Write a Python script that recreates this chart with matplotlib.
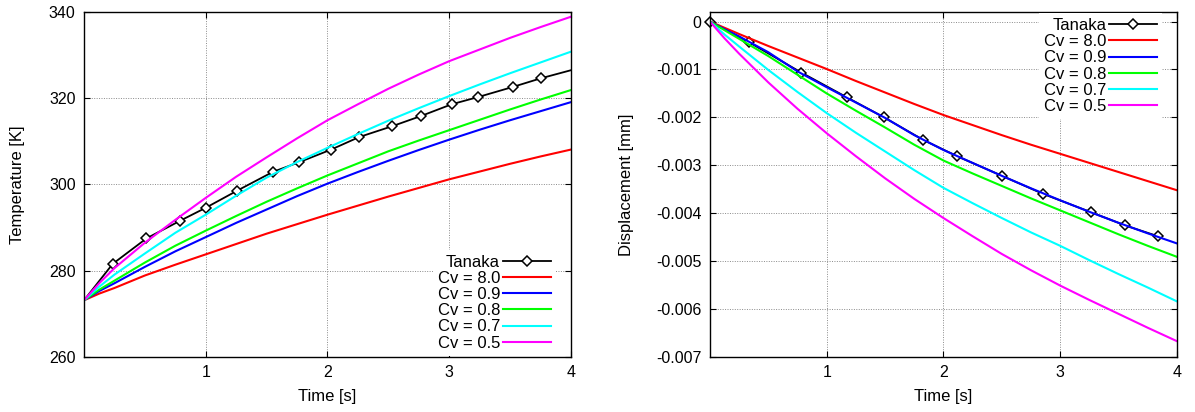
import numpy as np
import matplotlib
matplotlib.use('Agg')
import matplotlib.pyplot as plt

plt.rcParams['font.family'] = ['Liberation Sans', 'DejaVu Sans']
plt.rcParams['font.size'] = 11.5

# time grid of the model curves
t = [0, 0.125, 0.25, 0.5, 0.75, 1, 1.25, 1.5, 1.75, 2, 2.25, 2.5, 2.75, 3, 3.25, 3.5, 3.75, 4]

# ---- temperature panel ----
tanaka_t = [0, 0.236, 0.513, 0.79, 1.0, 1.26, 1.55, 1.77, 2.03, 2.26, 2.53, 2.77, 3.02, 3.24, 3.52, 3.75, 4.0]
tanaka_T = [273.15, 281.6, 287.5, 291.6, 294.6, 298.6, 302.9, 305.2, 308.1, 311.0, 313.5, 315.9, 318.6,
            320.3, 322.6, 324.6, 326.5]

T_cv80 = [273.15, 274.7, 276.0, 278.9, 281.4, 283.8, 286.2, 288.6, 290.8, 293.0, 295.1, 297.2, 299.2, 301.2,
          303.0, 304.8, 306.5, 308.1]
T_cv09 = [273.15, 275.3, 277.1, 280.9, 284.5, 287.8, 291.1, 294.2, 297.3, 300.2, 302.9, 305.5, 308.0, 310.4,
          312.7, 314.9, 317.0, 319.1]
T_cv08 = [273.15, 275.6, 277.7, 281.9, 285.8, 289.3, 292.7, 296.0, 299.1, 302.1, 304.9, 307.7, 310.2, 312.6,
          315.0, 317.4, 319.7, 321.9]
T_cv07 = [273.15, 276.3, 279.1, 284.0, 288.8, 293.0, 297.4, 301.6, 305.2, 308.5, 311.7, 314.8, 317.7, 320.5,
          323.2, 325.8, 328.3, 330.8]
T_cv05 = [273.15, 277.1, 280.6, 286.5, 291.8, 296.9, 301.8, 306.3, 310.7, 314.9, 318.6, 322.2, 325.5, 328.6,
          331.3, 334.0, 336.5, 338.9]

# ---- displacement panel ----
tanaka_t2 = [0, 0.334, 0.782, 1.175, 1.487, 1.825, 2.12, 2.5, 2.85, 3.26, 3.555, 3.84]
tanaka_d = [0, -0.000431, -0.001063, -0.001584, -0.001994, -0.002467, -0.002814, -0.003218, -0.003593,
            -0.003975, -0.004253, -0.004482]

d_cv80 = [0, -0.00013, -0.00026, -0.00051, -0.00075, -0.00099, -0.00124, -0.00148, -0.00172, -0.00195,
          -0.00216, -0.00237, -0.00257, -0.00276, -0.00295, -0.00314, -0.00333, -0.00352]
d_cv09 = [0, -0.00016, -0.00031, -0.00064, -0.00104, -0.00137, -0.00169, -0.00201, -0.00237, -0.00268,
          -0.00295, -0.00322, -0.00348, -0.00373, -0.00397, -0.00420, -0.00442, -0.00463]
d_cv08 = [0, -0.00018, -0.00036, -0.00072, -0.00111, -0.00150, -0.00186, -0.00221, -0.00257, -0.00290,
          -0.00317, -0.00343, -0.00369, -0.00394, -0.00419, -0.00444, -0.00468, -0.00491]
d_cv07 = [0, -0.00027, -0.00052, -0.00101, -0.00147, -0.00191, -0.00232, -0.00271, -0.00310, -0.00347,
          -0.00379, -0.00410, -0.00440, -0.00468, -0.00498, -0.00527, -0.00555, -0.00584]
d_cv05 = [0, -0.00035, -0.00067, -0.00127, -0.00182, -0.00233, -0.00281, -0.00327, -0.00370, -0.00410,
          -0.00448, -0.00485, -0.00519, -0.00551, -0.00581, -0.00610, -0.00639, -0.00667]

labels = ['Cv = 8.0', 'Cv = 0.9', 'Cv = 0.8', 'Cv = 0.7', 'Cv = 0.5']
colors = ['#ff0000', '#0000ff', '#00ff00', '#00ffff', '#ff00ff']

fig = plt.figure(figsize=(11.95, 4.12), dpi=100)
ax1 = fig.add_axes([0.0703, 0.1335, 0.4075, 0.8374])
ax2 = fig.add_axes([0.5941, 0.1335, 0.3908, 0.8374])

mk = dict(marker='D', ms=5, mfc='white', mec='black', mew=1.1)

ax1.plot(tanaka_t, tanaka_T, color='black', lw=1.3, label='Tanaka', markevery=slice(1, -1), **mk)
for y, lab, c in zip([T_cv80, T_cv09, T_cv08, T_cv07, T_cv05], labels, colors):
    ax1.plot(t, y, color=c, lw=1.5, label=lab)

ax2.plot(tanaka_t2, tanaka_d, color='black', lw=1.3, label='Tanaka', clip_on=False, **mk)
for y, lab, c in zip([d_cv80, d_cv09, d_cv08, d_cv07, d_cv05], labels, colors):
    ax2.plot(t, y, color=c, lw=1.5, label=lab)

ax1.set_xlim(0, 4)
ax1.set_ylim(260, 340)
ax1.set_xticks([1, 2, 3, 4])
ax1.set_yticks([260, 280, 300, 320, 340])
ax1.set_xlabel('Time [s]', fontsize=12, labelpad=6)
ax1.set_ylabel('Temperature [K]', fontsize=12, labelpad=17)

ax2.set_xlim(0, 4)
ax2.set_ylim(-0.007, 0.0002)
ax2.set_xticks([1, 2, 3, 4])
yt = [0, -0.001, -0.002, -0.003, -0.004, -0.005, -0.006, -0.007]
ax2.set_yticks(yt)
ax2.set_yticklabels(['0' if v == 0 else '%.3f' % v for v in yt])
ax2.set_xlabel('Time [s]', fontsize=12, labelpad=6)
ax2.set_ylabel('Displacement [mm]', fontsize=12, labelpad=16)

for ax in (ax1, ax2):
    ax.grid(True, color='#8a8a8a', linestyle=(0, (1, 1.5)), lw=0.7)
    ax.tick_params(direction='in', top=True, right=True, length=4, width=0.8, pad=6)
    for s in ax.spines.values():
        s.set_linewidth(1.0)

leg_kw = dict(markerfirst=False, frameon=True, fancybox=False, edgecolor='none', facecolor='white',
              framealpha=1, handlelength=2.9, labelspacing=0.07, borderpad=0.3, handletextpad=0.15,
              fontsize=12, borderaxespad=0)
ax1.legend(loc='lower right', bbox_to_anchor=(0.969, 0.004), **leg_kw)
ax2.legend(loc='upper right', bbox_to_anchor=(0.968, 0.997), **leg_kw)

fig.savefig('out.png', dpi=100)
